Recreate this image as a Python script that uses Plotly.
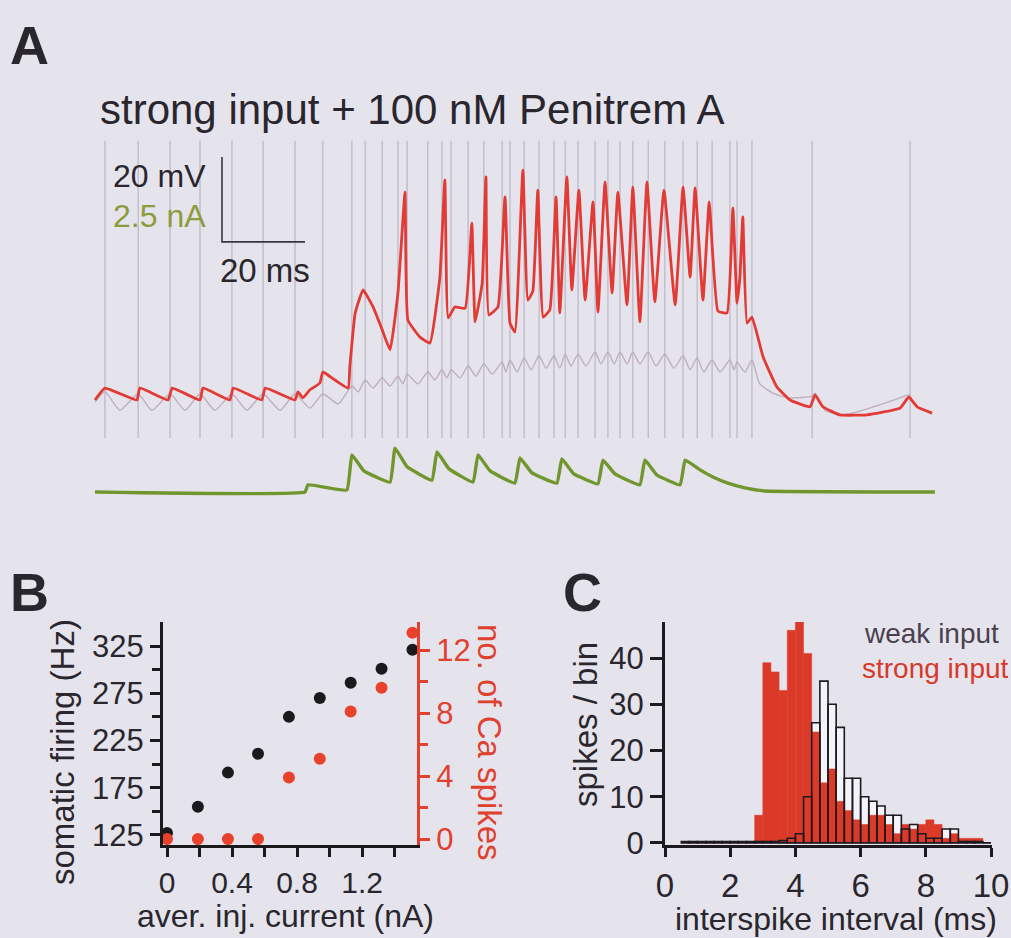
import plotly.graph_objects as go

# ---------------- Panel A data (time in ms, membrane potential in mV, current in nA)
strong_t = [0, 2.4, 10.1, 10.8, 17.6, 18.6, 25.3, 26.0, 32.5, 33.3, 40.2, 41.0, 48.2, 48.9, 50.1, 51.8,
            54.2, 54.9, 57.8, 61.0, 61.4, 62.7, 64.6, 67.0, 69.2, 71.1, 73.0, 74.7, 75.4, 78.3, 80.7,
            83.1, 84.3, 85.1, 86.7, 89.2, 90.8, 91.6, 93.3, 94.2, 94.9, 97.1, 98.8, 100.0, 101.2, 103.1,
            104.3, 105.5, 106.7, 108.0, 109.6, 111.1, 112.0, 113.7, 114.9, 116.6, 118.1, 120.0, 121.2,
            122.9, 124.6, 126.0, 128.2, 129.6, 131.3, 133.0, 134.9, 137.1, 139.8, 141.7, 143.4, 144.6,
            146.5, 148.0, 150.1, 152.3, 153.7, 154.7, 155.4, 156.1, 157.1, 158.3, 161.0, 164.3, 167.5,
            172.3, 173.5, 175.4, 179.5, 186.0, 194.0, 196.1, 198.1, 201.7]
strong_v = [-70, -67.2, -70, -67.2, -70, -67.2, -70, -67.2, -70, -67.2, -70, -67.2, -70, -68.1, -69.5, -67.6,
            -66.0, -63.4, -65.3, -67.2, -62.2, -49.5, -44.1, -48.1, -53.5, -58.2, -44.8, -21.1, -51.2, -55.2, -56.6,
            -41.1, -18.2, -50.7, -48.1, -48.4, -28.4, -51.6, -42.5, -17.5, -50.0, -48.1, -22.2, -51.9, -54.0, -15.9,
            -46.5, -44.4, -20.6, -50.5, -48.8, -22.2, -49.5, -17.5, -44.1, -20.6, -46.5, -23.4, -49.3,
            -18.7, -44.8, -21.1, -47.6, -19.9, -51.6, -18.7, -46.9, -20.6, -47.6, -19.9, -41.1, -20.1,
            -46.5, -23.4, -49.1, -49.5, -24.8, -47.2, -41.1, -26.9, -51.9, -50.5, -59.9, -66.9, -70.0,
            -71.6, -68.8, -71.6, -73.5, -73.5, -71.9, -69.3, -71.6, -73.1]

weak_t = [0, 2.4, 6.0, 10.4, 13.7, 18.1, 21.7, 25.3, 28.9, 33.0, 36.6, 40.5, 44.6, 48.2, 51.8, 54.9, 58.6,
          61.9, 63.4, 65.1, 67.0, 69.2, 71.1, 73.0, 74.2, 75.2, 77.8, 80.2, 81.9, 83.6, 84.8, 85.8, 88.0,
          89.9, 91.8, 93.7, 95.7, 98.1, 99.0, 100.0, 101.7, 103.4, 105.1, 107.0, 108.7, 110.6, 112.0,
          113.3, 114.7, 116.4, 118.3, 120.5, 121.9, 123.6, 125.1, 126.5, 128.2, 129.6, 131.3, 133.3,
          135.2, 137.3, 139.5, 141.7, 143.4, 145.1, 146.7, 148.7, 150.6, 153.0, 154.0, 154.7, 156.6,
          158.3, 160.2, 163.9, 167.5, 172.8, 173.5, 175.9, 180.2, 186.7, 194.0, 196.1, 197.1]
weak_v = [-70.5, -68.1, -72.4, -68.6, -72.4, -68.6, -72.4, -68.6, -72.4, -68.6, -72.4, -68.6, -72.4, -68.6,
          -71.9, -68.6, -70.9, -66.7, -68.1, -65.3, -67.2, -64.8, -66.7, -64.4, -66.2, -63.9, -66.2, -63.4,
          -65.3, -62.9, -64.8, -62.9, -64.8, -62.0, -64.4, -61.5, -63.9, -61.1, -63.4, -60.6, -63.4, -60.1,
          -62.9, -59.6, -62.5, -59.6, -62.5, -59.2, -62.0, -59.2, -62.0, -58.7, -61.5, -58.7, -61.5, -58.7,
          -61.5, -58.7, -61.5, -58.7, -62.0, -59.2, -62.5, -59.6, -62.9, -60.1, -63.4, -60.6, -63.4, -60.6,
          -62.9, -61.1, -63.4, -60.6, -66.2, -68.6, -69.5, -69.1, -68.4, -72.4, -73.5, -71.9, -69.5, -68.8,
          -70.5]

spike_t = [2.4, 10.4, 18.1, 25.3, 33.0, 40.5, 48.2, 54.9, 61.9, 65.1, 69.2, 73.0, 75.2, 80.2, 83.6, 85.8,
           89.9, 93.7, 98.1, 100.0, 103.4, 107.0, 110.6, 113.3, 116.4, 120.5, 123.6, 126.5, 129.6, 133.3,
           137.3, 141.7, 145.1, 148.7, 153.0, 154.7, 158.3, 172.8, 196.4]
spike_top_mv = -9.0
spike_bottom_mv = -79.0

inj_t = [0, 50.6, 51.3, 60.7, 61.9, 64.8, 71.1, 72.3, 75.2, 81.2, 82.4, 85.3, 91.1, 92.3, 95.2, 101.2,
         102.4, 105.3, 111.3, 112.5, 115.4, 121.2, 122.4, 125.3, 131.3, 132.5, 135.4, 141.0, 142.2,
         145.8, 148.9, 152.5, 156.6, 161.4, 202.4]
inj_i = [0, 0, 0.21, 0.06, 1.09, 0.62, 0.29, 1.29, 0.74, 0.35, 1.18, 0.68, 0.29, 1.09, 0.62, 0.26,
         1.0, 0.56, 0.26, 0.97, 0.53, 0.24, 0.94, 0.53, 0.21, 0.94, 0.50, 0.21, 0.94,
         0.65, 0.44, 0.26, 0.12, 0.03, 0]

SCALE_MS = 20
SCALE_MV = 20

# ---------------- Panel B data
inj_current = [0, 0.19, 0.375, 0.56, 0.75, 0.94, 1.13, 1.32, 1.51]
somatic_hz = [127, 155, 191, 211, 250, 270, 286, 301, 321]
ca_spikes = [0, 0, 0, 0, 3.9, 5.1, 8.1, 9.6, 13.1]

# ---------------- Panel C data (ISI histograms, 0.25 ms bins)
BIN_W = 0.25
bin_left = [0.5, 0.75, 1.0, 1.25, 1.5, 1.75, 2.0, 2.25, 2.5, 2.75, 3.0, 3.25, 3.5, 3.75, 4.0, 4.25,
            4.5, 4.75, 5.0, 5.25, 5.5, 5.75, 6.0, 6.25, 6.5, 6.75, 7.0, 7.25, 7.5, 7.75, 8.0, 8.25,
            8.5, 8.75, 9.0, 9.25, 9.5, 9.75]
strong_counts = [0, 0, 0, 0, 0, 0, 0, 0, 0, 6, 39, 37, 33, 46, 48, 41,
                 24, 13, 16, 9, 7, 5, 4, 6, 6, 4, 2, 4, 3, 4, 5, 4,
                 1, 2, 1, 1, 1, 0]
weak_counts = [0.3, 0.3, 0.3, 0.3, 0.3, 0.3, 0.3, 0.3, 0.3, 0.3, 0.3, 0.3, 0.5, 1, 2, 10,
               26, 35, 30, 25, 14, 14, 10, 9, 8, 6, 6, 3, 4, 2, 1, 1,
               3, 3, 0.3, 0.3, 0.3, 0]

# ---------------- helpers for layout placement
W, H = 1011, 938
def px(x):
    return x / W
def py(y):
    return 1 - y / H

FONT = "Liberation Sans, Arial, sans-serif"
INK = "#2a262d"
RED = "#e23b35"
GREEN = "#72962e"

fig = go.Figure()

# Panel A
vx, vy = [], []
for t in spike_t:
    vx += [t, t, None]
    vy += [spike_top_mv, spike_bottom_mv, None]
fig.add_trace(go.Scatter(x=vx, y=vy, mode="lines", line=dict(color="rgba(140,138,155,0.55)", width=1.1),
                         xaxis="x", yaxis="y", hoverinfo="skip"))
fig.add_trace(go.Scatter(x=weak_t, y=weak_v, mode="lines",
                         line=dict(color="rgba(185,165,182,0.85)", width=1.4, shape="spline", smoothing=0.6),
                         xaxis="x", yaxis="y"))
fig.add_trace(go.Scatter(x=strong_t, y=strong_v, mode="lines",
                         line=dict(color=RED, width=2.8, shape="spline", smoothing=0.35),
                         xaxis="x", yaxis="y"))
fig.add_trace(go.Scatter(x=inj_t, y=inj_i, mode="lines",
                         line=dict(color=GREEN, width=3.4, shape="spline", smoothing=0.3),
                         xaxis="x", yaxis="y2"))
sb_t0, sb_v0 = 30.6, -32.8
fig.add_trace(go.Scatter(x=[sb_t0, sb_t0, sb_t0 + SCALE_MS], y=[sb_v0 + SCALE_MV, sb_v0, sb_v0],
                         mode="lines", line=dict(color="#3a3540", width=1.6), xaxis="x", yaxis="y"))

# Panel B
fig.add_trace(go.Scatter(x=inj_current, y=somatic_hz, mode="markers",
                         marker=dict(color="#1a1a1c", size=12), xaxis="x2", yaxis="y3"))
fig.add_trace(go.Scatter(x=inj_current, y=ca_spikes, mode="markers",
                         marker=dict(color="#e8412c", size=12), xaxis="x2", yaxis="y4"))

# Panel C
centers = [b + BIN_W / 2 for b in bin_left]
fig.add_trace(go.Bar(x=centers, y=weak_counts, width=BIN_W, marker=dict(color="#f4f3f8", line=dict(width=0)),
                     xaxis="x3", yaxis="y5"))
fig.add_trace(go.Bar(x=centers, y=strong_counts, width=BIN_W,
                     marker=dict(color="#dc3a28", line=dict(color="#dc3a28", width=0.5)),
                     xaxis="x3", yaxis="y5"))
fig.add_trace(go.Bar(x=centers, y=weak_counts, width=BIN_W,
                     marker=dict(color="rgba(0,0,0,0)", line=dict(color="#1c1a20", width=1.6)),
                     xaxis="x3", yaxis="y5"))

# axis ranges for panel A (4.15 px/ms, 4.25 px/mV, 34 px/nA)
xa_range = [(80 - 95) / 4.15, (950 - 95) / 4.15]
ya_range = [-70 - (500 - 400) / 4.25, -70 + (400 - 130) / 4.25]
ya2_range = [(492 - 500) / 34, (492 - 130) / 34]

tickfont = dict(family=FONT, size=31, color=INK)
common_axis = dict(showgrid=False, zeroline=False, showline=True, automargin=False, ticklabeloverflow="allow")

fig.update_layout(
    width=W, height=H, margin=dict(l=0, r=0, t=0, b=0), template="none",
    paper_bgcolor="#e5e4ed", plot_bgcolor="rgba(0,0,0,0)", showlegend=False, barmode="overlay",
    font=dict(family=FONT, color=INK),
    xaxis=dict(domain=[px(80), px(950)], range=xa_range, visible=False, anchor="y"),
    yaxis=dict(domain=[py(500), py(130)], range=ya_range, visible=False, anchor="x"),
    yaxis2=dict(overlaying="y", range=ya2_range, visible=False, anchor="x"),
    xaxis2=dict(domain=[px(163), px(417)], range=[-0.0246, 1.538], anchor="y3",
                tickvals=[0, 0.4, 0.8, 1.2], ticktext=["0", "0.4", "0.8", "1.2"],
                ticks="outside", ticklen=9, tickwidth=2.5, tickcolor="#1a1a1c",
                linecolor="#1a1a1c", linewidth=3, tickfont=dict(family=FONT, size=30, color=INK),
                minor=dict(tickvals=[0.2, 0.6, 1.0, 1.4], ticks="outside", ticklen=9, tickwidth=2.5,
                           tickcolor="#1a1a1c"),
                **common_axis),
    yaxis3=dict(domain=[py(845), py(622)], range=[114.4, 350.4], anchor="x2",
                tickvals=[125, 175, 225, 275, 325], ticks="outside", ticklen=10, tickwidth=2.5,
                tickcolor="#1a1a1c", linecolor="#1a1a1c", linewidth=3, tickfont=tickfont,
                minor=dict(tickvals=[150, 200, 250, 300], ticks="outside", ticklen=8, tickwidth=2.5,
                           tickcolor="#1a1a1c"),
                **common_axis),
    yaxis4=dict(overlaying="y3", side="right", range=[-0.38, 13.78], anchor="x2",
                tickvals=[0, 4, 8, 12], ticks="outside", ticklen=10, tickwidth=2.5,
                tickcolor="#e0412e", linecolor="#e0412e", linewidth=3,
                tickfont=dict(family=FONT, size=31, color="#e0412e"),
                minor=dict(tickvals=[2, 6, 10], ticks="outside", ticklen=8, tickwidth=2.5,
                           tickcolor="#e0412e"),
                **common_axis),
    xaxis3=dict(domain=[px(665), px(992)], range=[0, 10.03], anchor="y5",
                tickvals=[0, 2, 4, 6, 8, 10], ticks="outside", ticklen=9, tickwidth=2.5,
                tickcolor="#1c1a20", linecolor="#1c1a20", linewidth=3,
                tickfont=dict(family=FONT, size=33, color=INK), **common_axis),
    yaxis5=dict(domain=[py(845), py(622)], range=[-0.45, 47.8], anchor="x3",
                tickvals=[0, 10, 20, 30, 40], ticks="outside", ticklen=12, tickwidth=2.5,
                tickcolor="#1c1a20", linecolor="#1c1a20", linewidth=3,
                tickfont=dict(family=FONT, size=31, color=INK), **common_axis),
)

def ann(text, x, y, size, color=INK, xanchor="center", angle=0, bold=False):
    fig.add_annotation(text=f"<b>{text}</b>" if bold else text, x=px(x), y=py(y), xref="paper", yref="paper",
                       xanchor=xanchor, yanchor="middle", showarrow=False, textangle=angle,
                       font=dict(family=FONT, size=size, color=color))

ann("A", 8, 45, 54, xanchor="left", bold=True)
ann("B", 8, 592, 54, xanchor="left", bold=True)
ann("C", 561, 592, 54, xanchor="left", bold=True)
ann("strong input + 100 nM Penitrem A", 412, 110, 42)
ann("20 mV", 208, 176, 32, xanchor="right")
ann("2.5 nA", 208, 216, 32, color="#8c9b3c", xanchor="right")
ann("20 ms", 265, 270, 33)
ann("somatic firing (Hz)", 62, 752, 33, angle=-90)
ann("no. of Ca spikes", 490, 742, 33, color="#e0412e", angle=90)
ann("aver. inj. current (nA)", 285, 916, 32)
ann("spikes / bin", 585, 725, 33, angle=-90)
ann("interspike interval (ms)", 836, 919, 32)
ann("weak input", 862, 633, 28, color="#4a4050", xanchor="left")
ann("strong input", 860, 668, 28, color="#d8392b", xanchor="left")

fig.write_html("out.html")
